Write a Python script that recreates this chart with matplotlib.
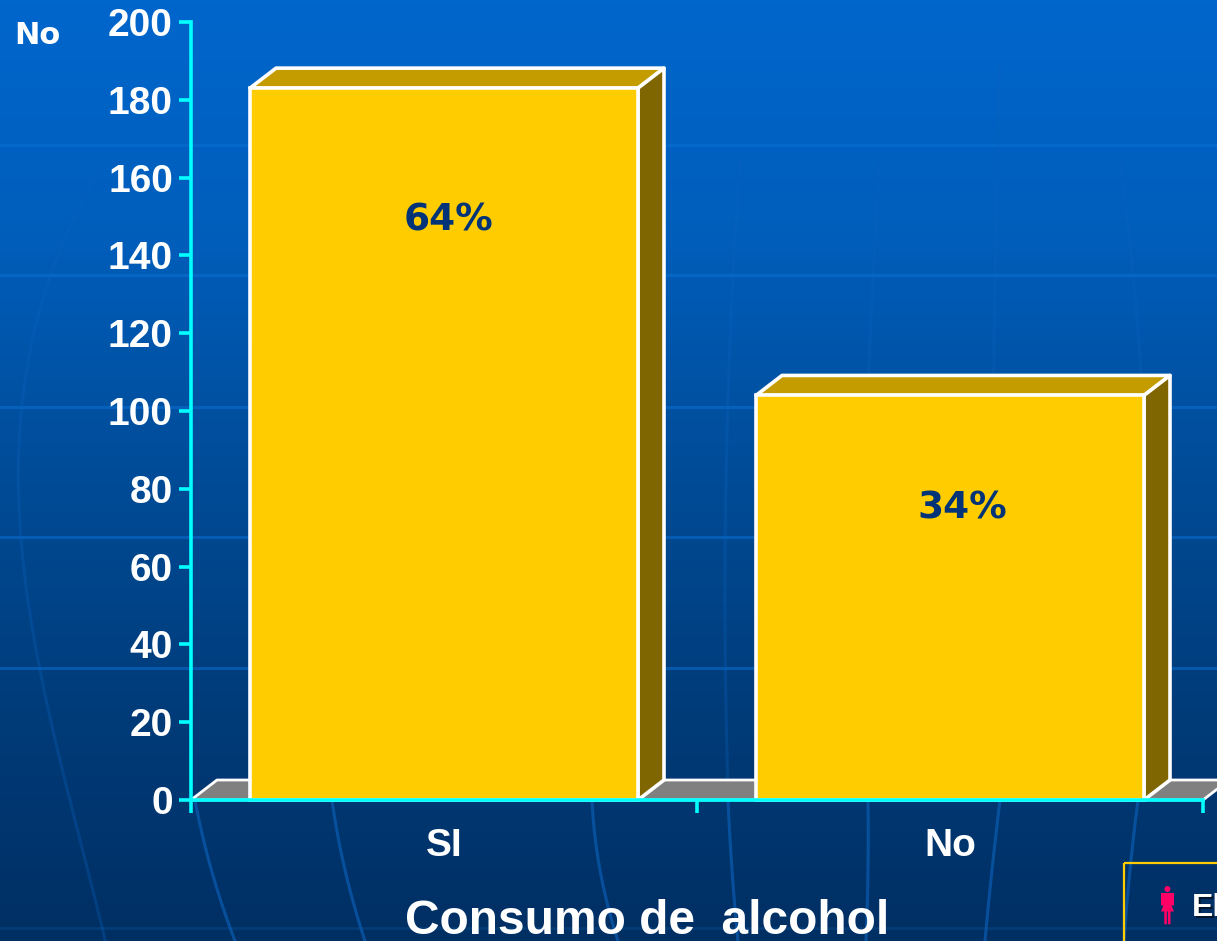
import numpy as np
import matplotlib
matplotlib.use("Agg")
import matplotlib.pyplot as plt
from matplotlib.patches import Polygon, Rectangle, Circle
from matplotlib.colors import LinearSegmentedColormap

categories = ["SI", "No"]
values = [183, 104]
percent_labels = ["64%", "34%"]
percent_heights = [149, 75]
percent_shift = [0.008, 0.024]
y_ticks = list(range(0, 201, 20))
x_title = "Consumo de  alcohol"
y_title = "No"

W, H = 1217, 941
plt.rcParams["font.family"] = ["Liberation Sans", "DejaVu Sans"]
fig = plt.figure(figsize=(W / 100, H / 100), dpi=100)

# Background in pixel coordinates
bg = fig.add_axes([0, 0, 1, 1])
bg.set_xlim(0, W)
bg.set_ylim(H, 0)
bg.axis("off")
cmap = LinearSegmentedColormap.from_list("bg", ["#0066CC", "#005EBB", "#004C98", "#003C7A", "#002F63"])
bg.imshow(np.linspace(0, 1, 256)[:, None], cmap=cmap, aspect="auto", extent=[0, W, H, 0], zorder=0)
for yy in [145, 275, 407, 537, 668]:
    bg.plot([0, W], [yy, yy], color="#0A72D6", alpha=0.5, lw=2.2, zorder=1)
bg.plot([0, W], [928, 928], color="#0A4C8E", alpha=0.45, lw=2, zorder=1)


def meridian(xs, ys, deg, color, alpha):
    coef = np.polyfit(ys, xs, deg)
    yy = np.linspace(min(ys), max(ys), 80)
    bg.plot(np.polyval(coef, yy), yy, color=color, alpha=alpha, lw=2.2, zorder=1)


for mx, my in [
    ([195, 210, 235], [800, 865, 941]),
    ([332, 345, 365], [800, 870, 941]),
    ([592, 600, 618], [800, 870, 941]),
    ([728, 732, 738], [800, 870, 941]),
    ([868, 868, 866], [800, 870, 941]),
    ([1000, 992, 985], [800, 870, 941]),
    ([1138, 1130, 1124], [800, 870, 941]),
]:
    meridian(mx, my, 2, "#0A5AAE", 0.75)
meridian([100, 30, 22, 40, 70, 105], [170, 340, 480, 690, 790, 941], 3, "#0A62BE", 0.3)
for mx, my in [([740, 726, 728], [160, 480, 790]), ([1120, 1146, 1140], [160, 480, 790]),
               ([880, 866, 868], [160, 480, 790]), ([1000, 993, 995], [60, 480, 790])]:
    meridian(mx, my, 2, "#0A62BE", 0.3)

# Chart axes
L, R, T, B = 191, 1203, 22, 800
ax = fig.add_axes([L / W, 1 - B / H, (R - L) / W, (B - T) / H])
ax.patch.set_alpha(0)
ax.set_xlim(-0.5, 1.5)
ax.set_ylim(0, 200)
cyan = "#00FFFF"
for s in ["top", "right"]:
    ax.spines[s].set_visible(False)
for s in ["left", "bottom"]:
    ax.spines[s].set_color(cyan)
    ax.spines[s].set_linewidth(2.6)
ax.set_yticks(y_ticks)
ax.set_yticklabels([str(t) for t in y_ticks], fontsize=28, fontweight="bold", color="white")
ax.tick_params(axis="y", length=9, width=2.6, color=cyan, pad=4)
ax.set_xticks([-0.5, 0.5, 1.5])
ax.set_xticklabels([])
ax.tick_params(axis="x", length=9, width=2.6, color=cyan)
for pos, cat in enumerate(categories):
    ax.text(pos, -11.9, cat, ha="center", va="center", fontsize=28, fontweight="bold", color="white", clip_on=False)

dx = 26 / 506
dy = 20 / 3.89
bw = 388 / 506
# floor
ax.add_patch(Polygon([(-0.5, 0), (-0.5 + dx, dy), (1.5 + dx, dy), (1.5, 0)], closed=True, fc="#808080",
                     ec="white", lw=2, joinstyle="round", clip_on=False, zorder=2))
for i, (v, p, ph, sh) in enumerate(zip(values, percent_labels, percent_heights, percent_shift)):
    x0, x1 = i - bw / 2, i + bw / 2
    ax.add_patch(Polygon([(x0, v), (x0 + dx, v + dy), (x1 + dx, v + dy), (x1, v)], closed=True,
                         fc="#C49C00", ec="white", lw=2.6, joinstyle="round", clip_on=False, zorder=3))
    ax.add_patch(Polygon([(x1, 0), (x1 + dx, dy), (x1 + dx, v + dy), (x1, v)], closed=True,
                         fc="#806600", ec="white", lw=2.6, joinstyle="round", clip_on=False, zorder=3))
    ax.bar(i, v, width=bw, color="#FFCC00", edgecolor="white", linewidth=2.6, zorder=4, clip_on=False)
    ax.text(i + sh, ph, p, ha="center", va="center", fontsize=27, fontweight="bold", color="#003377",
            family="DejaVu Sans", zorder=5)
for s in ax.spines.values():
    s.set_zorder(6)

# Overlay texts and legend fragment in pixels
ov = fig.add_axes([0, 0, 1, 1])
ov.set_xlim(0, W)
ov.set_ylim(H, 0)
ov.axis("off")
ov.patch.set_alpha(0)
ov.text(37, 35, y_title, ha="center", va="center", fontsize=22, fontweight="bold", color="white",
        family="DejaVu Sans")
ov.text(647, 921, x_title, ha="center", va="center", fontsize=34.5, fontweight="bold", color="white")
ov.add_patch(Rectangle((1123.5, 863), 120, 100, fc="none", ec="#FFCC00", lw=1.6))
pink = "#FF0066"
ov.add_patch(Circle((1167.4, 889), 3, fc=pink, ec="none"))
ov.add_patch(Polygon([(1161, 893), (1174, 893), (1174, 905.5), (1171.5, 905.5), (1174, 911.5), (1170.5, 911.5),
                      (1170.5, 924.3), (1167.9, 924.3), (1167.9, 911.5), (1166.9, 911.5), (1166.9, 924.3),
                      (1164.3, 924.3), (1164.3, 911.5), (1161, 911.5), (1163.3, 905.5), (1161, 905.5)],
                     closed=True, fc=pink, ec="none"))
ov.text(1193.5, 910, "El", ha="left", va="center", fontsize=23, fontweight="bold", color="black", alpha=0.55)
ov.text(1192, 908.5, "El", ha="left", va="center", fontsize=23, fontweight="bold", color="white")
ov.text(1147, 957, "l", ha="center", va="center", fontsize=23, fontweight="bold", color="white")

fig.savefig("out.png", dpi=100)
